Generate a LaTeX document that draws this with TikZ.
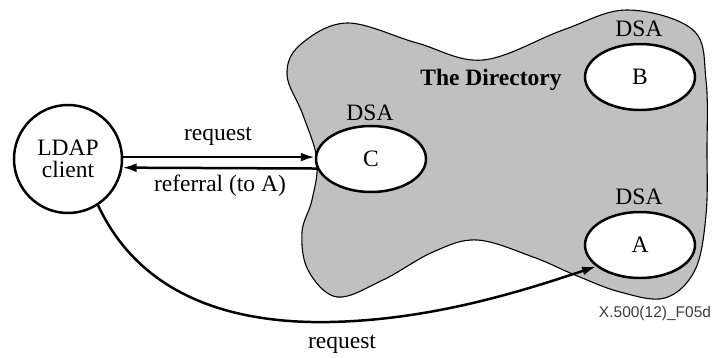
\documentclass[tikz,border=0pt]{standalone}
\usepackage{fontspec}
\setmainfont{Liberation Serif}
\newfontfamily\labelsans{Liberation Sans}
\usetikzlibrary{shapes.geometric,arrows.meta}
\definecolor{blobgray}{RGB}{192,192,192}
\definecolor{figlabel}{RGB}{60,60,60}
\begin{document}
\begin{tikzpicture}[x=1pt,y=-1pt,
  font=\fontsize{23.5}{22}\selectfont,
  dsa/.style={ellipse,draw,line width=2.5pt,fill=white,minimum width=110pt,minimum height=66pt,inner sep=0pt},
  client/.style={circle,draw,line width=2.5pt,fill=white,minimum size=108pt,inner sep=0pt,align=center},
  arr/.style={line width=2.5pt,-{Latex[length=14pt,width=9pt]}},
  blob/.style={fill=blobgray,draw=black,line width=1.1pt}]
\useasboundingbox (0,0) rectangle (713,358);
% the directory cloud
\path[blob] plot[smooth cycle,tension=0.6] coordinates {
  (347,23) (417,43) (483,60) (563,30) (627,10) (693,30) (706,80) (707,150)
  (706,215) (695,270) (665,298) (620,292) (575,275) (533,257) (477,240)
  (433,252) (383,280) (337,297) (308,270) (302,232) (312,200) (317,160)
  (303,115) (287,75) (300,45)};
\node[font=\bfseries\fontsize{23.5}{26}\selectfont] (dir) at (491,80) {The Directory};
% nodes
\node[client] (ldap) at (68,159) {LDAP\\client};
\node[dsa] (c) at (371,159) {C};
\node[dsa] (b) at (640,77) {B};
\node[dsa] (a) at (640,245) {A};
\node (dsac) at (370,113) {DSA};
\node (dsab) at (639,29) {DSA};
\node (dsaa) at (639,197) {DSA};
% connectors
\draw[arr] (ldap.2) -- (ldap.2 -| c.west);
\draw[arr] (c.190) -- (ldap.-9.6);
\draw[arr] (ldap.-57) .. controls (140,295) and (230,324) .. (330,322)
  .. controls (430,320) and (520,292) .. (a.206);
% labels
\node (lreq) at (218,136) {request};
\node (lref) at (220,186) {referral (to A)};
\node (lreq2) at (342,344) {request};
\node[font=\labelsans\fontsize{15.5}{18}\selectfont,text=figlabel] (fig) at (655,313) {X.500(12)\_F05d};
\end{tikzpicture}
\end{document}
